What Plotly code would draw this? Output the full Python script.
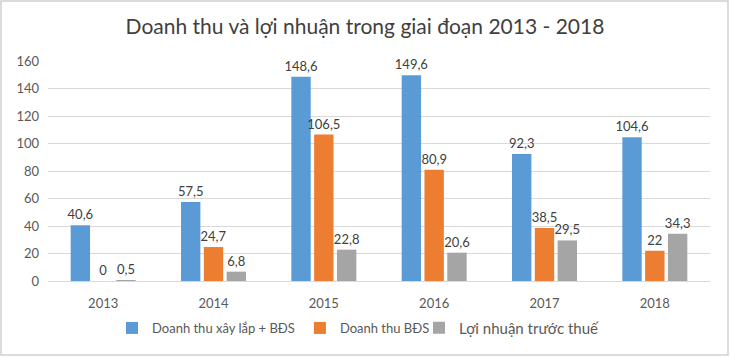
import plotly.graph_objects as go

years = ["2013", "2014", "2015", "2016", "2017", "2018"]
s1_name = "Doanh thu xây lắp + BĐS"
s2_name = "Doanh thu BĐS"
s3_name = "Lợi nhuận trước thuế"
s1 = [40.6, 57.5, 148.6, 149.6, 92.3, 104.6]
s2 = [0, 24.7, 106.5, 80.9, 38.5, 22]
s3 = [0.5, 6.8, 22.8, 20.6, 29.5, 34.3]
colors = ["#5B9BD5", "#ED7D31", "#A5A5A5"]

def fmt(v):
    return f"{v:g}".replace(".", ",")

W, H = 730, 357
L, R, T, B = 48, 20, 61, 76
pw, ph = W - L - R, H - T - B

fig = go.Figure()
for i, (name, vals, c) in enumerate(zip([s1_name, s2_name, s3_name], [s1, s2, s3], colors)):
    fig.add_trace(go.Bar(
        x=years, y=vals, name=name, marker_color=c, marker_line_width=0,
        text=[fmt(v) for v in vals], textposition="outside", constraintext="none",
        textfont=dict(size=13, color="#404040"), cliponaxis=False,
        legend="legend" if i < 2 else "legend2",
    ))

leg_y = (281 - 328) / ph
fig.update_layout(
    width=W, height=H,
    margin=dict(l=L, r=R, t=T, b=B),
    paper_bgcolor="white", plot_bgcolor="white",
    font=dict(family="Lato, Open Sans, sans-serif", color="#595959"),
    title=dict(text="Doanh thu và lợi nhuận trong giai đoạn 2013 - 2018",
               x=0.5, xanchor="center", y=1 - 27 / H, yanchor="middle",
               font=dict(size=21, color="#404040")),
    barmode="group", bargap=0.38, bargroupgap=0.15,
    showlegend=True,
    legend=dict(orientation="h", x=(112 - L) / pw, xanchor="left", y=leg_y,
                yanchor="middle", font=dict(size=13, color="#595959"),
                itemwidth=30, traceorder="normal", bgcolor="rgba(0,0,0,0)"),
    legend2=dict(orientation="h", x=(419 - L) / pw, xanchor="left", y=leg_y,
                 yanchor="middle", font=dict(size=15, color="#595959"),
                 itemwidth=30, bgcolor="rgba(0,0,0,0)"),
    xaxis=dict(showgrid=False, showline=True, linecolor="#d9d9d9", linewidth=1,
               ticks="", tickfont=dict(size=13, color="#595959"),
               ticklabelstandoff=10),
    yaxis=dict(range=[0, 160], dtick=20, showgrid=True, gridcolor="#d9d9d9",
               zeroline=False, ticks="", tickfont=dict(size=13, color="#595959"),
               ticklabelstandoff=8),
    shapes=[dict(type="rect", xref="paper", yref="paper",
                 x0=(1 - L) / pw, x1=(W - 2 - L) / pw,
                 y0=(T + ph - (H - 2)) / ph,
                 y1=(T + ph - 1) / ph,
                 line=dict(color="#d0d0d0", width=1.5), layer="below")],
)

fig.write_html("out.html", config={"displayModeBar": False},
               post_script="document.body.style.margin='0';")
